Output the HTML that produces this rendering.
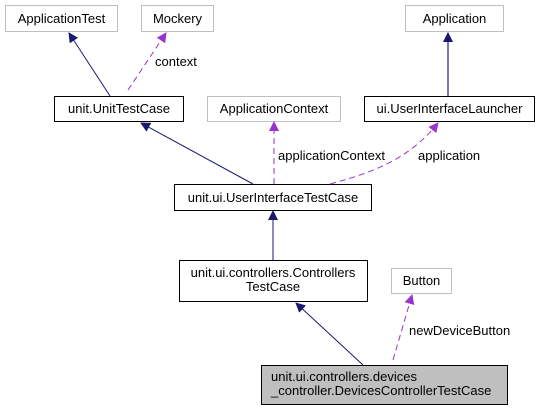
<!DOCTYPE html>
<html><head><style>html,body{margin:0;padding:0;background:#fff}svg{display:block}text{font-family:"Liberation Sans",Arial,sans-serif;font-size:13px;fill:#000}</style></head>
<body>
<svg width="537" height="411" viewBox="0 0 537 411" xmlns="http://www.w3.org/2000/svg">
<defs>
<marker id="an" markerWidth="10" markerHeight="10" refX="9" refY="5" orient="auto" markerUnits="userSpaceOnUse"><path d="M0,0 L10,5 L0,10 Z" fill="#191970"/></marker>
<marker id="ap" markerWidth="10" markerHeight="10" refX="9" refY="5" orient="auto" markerUnits="userSpaceOnUse"><path d="M0,0 L10,5 L0,10 Z" fill="#9a32cd"/></marker>
</defs>
<g fill="#fff" stroke="#bfbfbf">
<rect x="5.5" y="5.5" width="112" height="26"/>
<rect x="141.5" y="5.5" width="72" height="26"/>
<rect x="405.5" y="5.5" width="98" height="26"/>
<rect x="207.5" y="96.5" width="133" height="25"/>
<rect x="391.5" y="268.5" width="60" height="25"/>
</g>
<g fill="#fff" stroke="#000">
<rect x="54.5" y="96.5" width="129" height="25"/>
<rect x="364.5" y="96.5" width="170" height="25"/>
<rect x="174.5" y="184.5" width="197" height="26"/>
<rect x="179.5" y="260.5" width="188" height="41"/>
<rect x="261.5" y="365.5" width="246" height="39" fill="#bfbfbf"/>
</g>
<g fill="none" stroke="#191970" stroke-width="1">
<line x1="110" y1="96" x2="69" y2="33" marker-end="url(#an)"/>
<line x1="448" y1="96" x2="448" y2="33" marker-end="url(#an)" stroke="#4b4ba0" stroke-width="1.5"/>
<line x1="253" y1="184" x2="141" y2="123" marker-end="url(#an)"/>
<line x1="273" y1="260" x2="273" y2="211" marker-end="url(#an)"/>
<line x1="363" y1="365" x2="296" y2="303" marker-end="url(#an)"/>
</g>
<g fill="none" stroke="#9a32cd" stroke-dasharray="6,4">
<line x1="128" y1="90" x2="166" y2="33" marker-end="url(#ap)"/>
<line x1="274" y1="184" x2="274" y2="122" marker-end="url(#ap)"/>
<path d="M330,184 C375,172 410,158 438,123" marker-end="url(#ap)"/>
<line x1="393" y1="360" x2="412" y2="295" marker-end="url(#ap)"/>
</g>
<text x="61.5" y="23" text-anchor="middle">ApplicationTest</text>
<text x="177.5" y="23" text-anchor="middle">Mockery</text>
<text x="454.5" y="23" text-anchor="middle">Application</text>
<text x="119" y="113" text-anchor="middle">unit.UnitTestCase</text>
<text x="274" y="113" text-anchor="middle">ApplicationContext</text>
<text x="449.5" y="113" text-anchor="middle">ui.UserInterfaceLauncher</text>
<text x="273" y="202" text-anchor="middle">unit.ui.UserInterfaceTestCase</text>
<text x="273" y="277" text-anchor="middle">unit.ui.controllers.Controllers</text>
<text x="273" y="291" text-anchor="middle">TestCase</text>
<text x="421.5" y="285" text-anchor="middle">Button</text>
<text x="271" y="381">unit.ui.controllers.devices</text>
<text x="271" y="395">_controller.DevicesControllerTestCase</text>
<text x="155" y="66">context</text>
<text x="278" y="160">applicationContext</text>
<text x="418" y="160">application</text>
<text x="409" y="335">newDeviceButton</text>
</svg>
</body></html>
